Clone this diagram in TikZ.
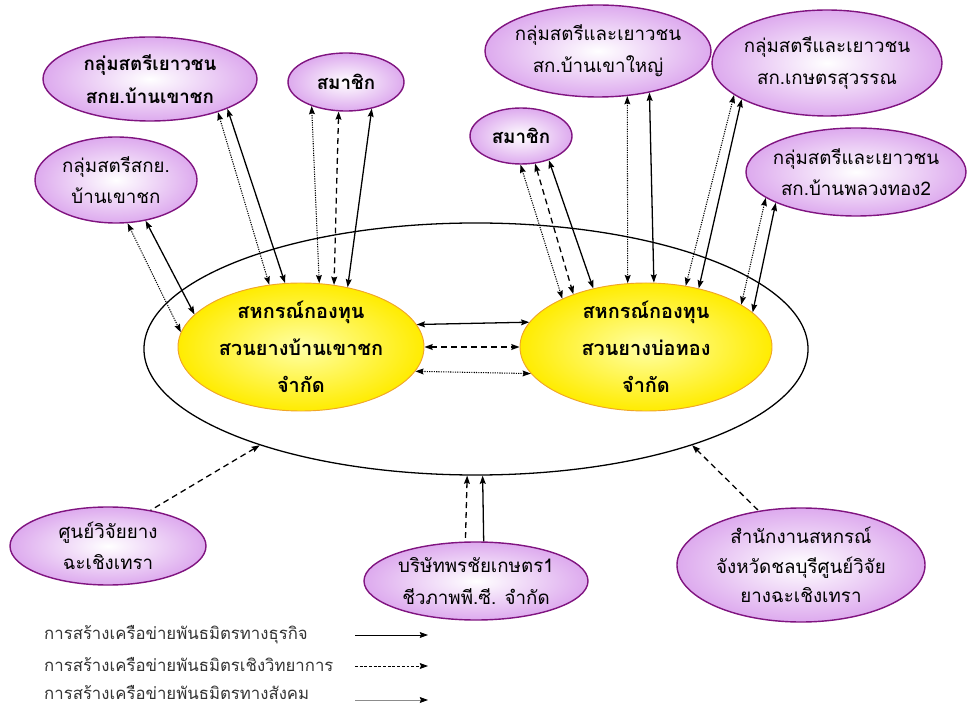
\documentclass[tikz,border=0pt]{standalone}
\usepackage{fontspec}
\setmainfont[Script=Thai]{Loma}
\usetikzlibrary{positioning,shapes.geometric,arrows.meta}

\definecolor{lilac}{RGB}{221,170,238}
\definecolor{plumline}{RGB}{128,20,128}
\definecolor{sunfill}{RGB}{255,236,0}
\definecolor{sunline}{RGB}{240,165,40}

\tikzset{
  coop/.style={ellipse, draw=sunline, line width=0.8pt, inner color=yellow!35!white, outer color=sunfill, inner sep=0pt},
  grp/.style={ellipse, draw=plumline, line width=1.2pt, inner color=white, outer color=lilac, inner sep=0pt},
  ring/.style={ellipse, draw, line width=1.1pt, inner sep=0pt},
  txt/.style={align=center, inner sep=0pt, font=\fontsize{16}{27}\selectfont},
  btxt/.style={txt, font=\bfseries\fontsize{16}{28}\selectfont},
  ytxt/.style={txt, font=\bfseries\fontsize{17}{31.5}\selectfont},
  leg/.style={inner sep=0pt, anchor=west, text=black!80, font=\fontsize{14.3}{16}\selectfont},
  biz/.style={<->, line width=1.1pt},
  sci/.style={<->, line width=1.1pt, dash pattern=on 5pt off 3.5pt},
  soc/.style={<->, line width=0.9pt, dash pattern=on 1pt off 1pt},
}

\begin{document}
\begin{tikzpicture}[x=0.03cm,y=-0.03cm,>={Stealth[length=7pt,width=5pt,inset=1pt]}]
  \useasboundingbox (0,0) rectangle (968,709);

  \node[ring, minimum width=19.92cm, minimum height=7.56cm] (network) at (476,349) {};
  \node[coop, minimum width=7.38cm, minimum height=3.84cm] (coopA) at (301,347) {};
  \node[coop, minimum width=7.56cm, minimum height=3.84cm] (coopB) at (646,347) {};
  \node[ytxt] (coopAt) at (coopA) {สหกรณ์กองทุน\\สวนยางบ้านเขาชก\\จำกัด};
  \node[ytxt] (coopBt) at (coopB) {สหกรณ์กองทุน\\สวนยางบ่อทอง\\จำกัด};

  \node[grp, minimum width=6.42cm, minimum height=2.52cm] (grpA) at (150,79) {};
  \node[grp, minimum width=3.48cm, minimum height=1.74cm] (memA) at (346,82) {};
  \node[grp, minimum width=4.86cm, minimum height=2.58cm] (grpB) at (116,180) {};
  \node[grp, minimum width=6.78cm, minimum height=2.76cm] (grpC) at (598,51) {};
  \node[grp, minimum width=6.9cm, minimum height=3.18cm] (grpD) at (827,63) {};
  \node[grp, minimum width=3.06cm, minimum height=1.68cm] (memB) at (521,136) {};
  \node[grp, minimum width=6.6cm, minimum height=2.64cm] (grpE) at (856,172) {};
  \node[grp, minimum width=5.88cm, minimum height=2.34cm] (rubA) at (108,546) {};
  \node[grp, minimum width=6.72cm, minimum height=2.34cm] (firm) at (476,581) {};
  \node[grp, minimum width=7.44cm, minimum height=3.42cm] (office) at (801,565) {};

  \node[btxt] (grpAt) at (grpA) {กลุ่มสตรีเยาวชน\\สกย.บ้านเขาชก};
  \node[btxt] (memAt) at (memA) {สมาชิก};
  \node[txt] (grpBt) at (grpB) {กลุ่มสตรีสกย.\\บ้านเขาชก};
  \node[txt] (grpCt) at (grpC) {กลุ่มสตรีและเยาวชน\\สก.บ้านเขาใหญ่};
  \node[txt] (grpDt) at (grpD) {กลุ่มสตรีและเยาวชน\\สก.เกษตรสุวรรณ};
  \node[btxt] (memBt) at (memB) {สมาชิก};
  \node[txt] (grpEt) at (grpE) {กลุ่มสตรีและเยาวชน\\สก.บ้านพลวงทอง2};
  \node[txt] (rubAt) at (rubA) {ศูนย์วิจัยยาง\\ฉะเชิงเทรา};
  \node[txt] (firmt) at (firm) {บริษัทพรชัยเกษตร1\\ชีวภาพพี.ซี. จำกัด};
  \node[txt, font=\fontsize{16}{25}\selectfont] (officet) at (office) {สำนักงานสหกรณ์\\จังหวัดชลบุรีศูนย์วิจัย\\ยางฉะเชิงเทรา};

  \draw[soc] (grpB.-75.7) -- (coopA.173.5);
  \draw[biz] (grpB.-54.8) -- (coopA.163.3);
  \draw[soc] (grpA.-26.9) -- (coopA.117.2);
  \draw[biz] (grpA.-21.7) -- (coopA.104.4);
  \draw[soc] (memA.-145.1) -- (coopA.74.8);
  \draw[sci] (memA.-104.9) -- (coopA.62.1);
  \draw[biz] (memA.-46) -- (coopA.52.4);

  \draw[soc] (memB.-91.7) -- (coopB.150.6);
  \draw[sci] (memB.-63.4) -- (coopB.144.9);
  \draw[biz] (memB.-41.6) -- (coopB.132.1);
  \draw[soc] (grpC.-57.8) -- (coopB.106.3);
  \draw[biz] (grpC.-39.9) -- (coopB.83.9);
  \draw[soc] (grpD.-161.3) -- (coopB.57.8);
  \draw[biz] (grpD.-157.6) -- (coopB.48.9);
  \draw[soc] (grpE.-164.3) -- (coopB.24.8);
  \draw[biz] (grpE.-159.3) -- (coopB.18.4);

  \draw[biz] (coopA.11.9) -- (coopB.168.4);
  \draw[sci] (coopA.east) -- (coopB.west);
  \draw[soc] (coopA.-12.4) -- (coopB.-167.9);

  \draw[sci,<-] (network.204.3) -- (rubA.40.2);
  \draw[sci,<-] (network.-94.7) -- (firm.105.8);
  \draw[biz,<-] (network.-87) -- (firm.79.8);
  \draw[sci,<-] (network.-24.5) -- (office.128.9);

  \node[leg] (legBiz) at (44,635) {การสร้างเครือข่ายพันธมิตรทางธุรกิจ};
  \node[leg] (legSci) at (44,664) {การสร้างเครือข่ายพันธมิตรเชิงวิทยาการ};
  \node[leg] (legSoc) at (44,693) {การสร้างเครือข่ายพันธมิตรทางสังคม};
  \coordinate (bizS) at (355,635); \coordinate (bizE) at (428,635);
  \coordinate (sciS) at (355,666); \coordinate (sciE) at (428,666);
  \coordinate (socS) at (355,700); \coordinate (socE) at (428,700);
  \draw[->, line width=0.7pt] (bizS) -- (bizE);
  \draw[->, line width=0.7pt, dash pattern=on 2.5pt off 1.5pt] (sciS) -- (sciE);
  \draw[->, line width=0.7pt, black!45, >={Stealth[length=7pt,width=5pt,inset=1pt,black]}] (socS) -- (socE);
\end{tikzpicture}
\end{document}
